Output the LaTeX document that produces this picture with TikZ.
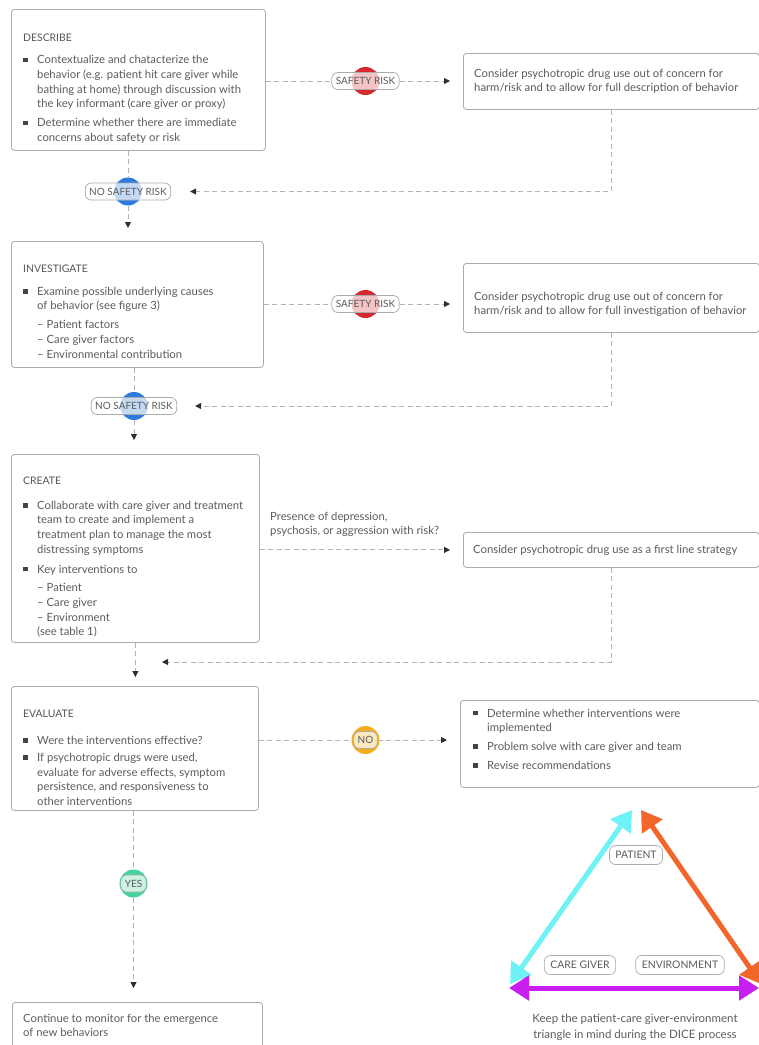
\documentclass[tikz,border=0pt]{standalone}
\usepackage{fontspec}
\setmainfont{Lato}
\usetikzlibrary{arrows.meta}
\definecolor{txt}{HTML}{5C5C5C}
\definecolor{hdc}{HTML}{555555}
\definecolor{boxc}{HTML}{ABABAB}
\definecolor{linec}{HTML}{B3B3B3}
\definecolor{tipc}{HTML}{2E2E2E}
\definecolor{bulc}{HTML}{444444}
\definecolor{riskred}{HTML}{D42A2F}
\definecolor{okblue}{HTML}{2D7BDB}
\definecolor{noyel}{HTML}{F2B01E}
\definecolor{yesgrn}{HTML}{45D39C}
\definecolor{tcyan}{HTML}{6EF2F6}
\definecolor{torange}{HTML}{F2662A}
\definecolor{tmag}{HTML}{C81EF0}
\newcommand{\hd}{\fontsize{10.4}{12}\selectfont\color{hdc}}
\newcommand{\nl}{\hfil\break}
\newcommand{\bul}{\par\noindent\hangindent=14pt\hangafter=1\makebox[14pt][l]{\textcolor{bulc}{\rule[1.6pt]{4.4pt}{4.4pt}}}}
\newcommand{\subi}[1]{\par\noindent\hspace*{14pt}– #1}
\newcommand{\isp}{\par\vspace{4pt}}
\begin{document}
\begin{tikzpicture}[x=1pt,y=-1pt,
  box/.style={draw=boxc, line width=0.8pt, rounded corners=3pt, fill=white, inner sep=0pt, anchor=north west},
  tx/.style={inner sep=0pt, anchor=base west, text=txt, font=\fontsize{11.3}{14.7}\selectfont},
  pill/.style={draw=boxc, line width=0.7pt, rounded corners=6pt, fill=white, fill opacity=0.72, text opacity=1, text=txt, font=\fontsize{10}{11}\selectfont, inner xsep=4pt, inner ysep=0pt, minimum height=17pt},
  tpill/.style={pill, fill opacity=1, font=\fontsize{10.4}{11}\selectfont, inner xsep=6pt, minimum height=19pt},
  dot/.style={circle, inner sep=0pt, minimum size=28pt},
  conn/.style={draw=linec, line width=0.9pt, dash pattern=on 5pt off 3.5pt},
  arr/.style={conn, -{Triangle[length=6pt,width=6pt,color=tipc]}},
  tri/.style={line width=5pt, {Triangle[length=20pt,width=24pt]}-{Triangle[length=20pt,width=24pt]}},
]
\useasboundingbox (0,0) rectangle (759,1045);
\fill[white] (0,0) rectangle (759,1045);

% ---------- DESCRIBE ----------
\node[box, minimum width=254pt, minimum height=141pt] (D) at (11,9) {};
\node[tx] (Dt) at (23,34) {\parbox[t]{240pt}{\raggedright{\hd DESCRIBE}\par\vspace{7.5pt}
\bul Contextualize and chatacterize the\nl behavior (e.g. patient hit care giver while\nl bathing at home) through discussion with\nl the key informant (care giver or proxy)\isp
\bul Determine whether there are immediate\nl concerns about safety or risk}};

\node[box, minimum width=296pt, minimum height=56pt] (R1) at (463,53) {};
\node[tx] (R1t) at (474,77) {\parbox[t]{282pt}{\raggedright Consider psychotropic drug use out of concern for\nl harm/risk and to allow for full description of behavior}};

\node[dot, fill=riskred] (SR1c) at (365.5,81) {};
\node[pill] (SR1) at (365.5,81) {SAFETY RISK};
\node[dot, fill=okblue] (NSR1c) at (128,191.5) {};
\node[pill] (NSR1) at (128,191.5) {NO SAFETY RISK};

% ---------- INVESTIGATE ----------
\node[box, minimum width=252pt, minimum height=126pt] (I) at (11,241) {};
\node[tx] (It) at (23,265) {\parbox[t]{238pt}{\raggedright{\hd INVESTIGATE}\par\vspace{8pt}
\bul Examine possible underlying causes\nl of behavior (see figure 3)\isp
\subi{Patient factors}
\subi{Care giver factors}
\subi{Environmental contribution}}};

\node[box, minimum width=296pt, minimum height=69pt] (R2) at (463,263) {};
\node[tx] (R2t) at (474,300) {\parbox[t]{282pt}{\raggedright Consider psychotropic drug use out of concern for\nl harm/risk and to allow for full investigation of behavior}};

\node[dot, fill=riskred] (SR2c) at (365.5,304) {};
\node[pill] (SR2) at (365.5,304) {SAFETY RISK};
\node[dot, fill=okblue] (NSR2c) at (134,406) {};
\node[pill] (NSR2) at (134,406) {NO SAFETY RISK};

% ---------- CREATE ----------
\node[box, minimum width=248pt, minimum height=188pt] (C) at (11,454) {};
\node[tx] (Ct) at (23,477) {\parbox[t]{236pt}{\raggedright{\hd CREATE}\par\vspace{10pt}
\bul Collaborate with care giver and treatment\nl team to create and implement a\nl treatment plan to manage the most\nl distressing symptoms\par\vspace{5pt}
\bul Key interventions to\par\vspace{4pt}
\subi{Patient}
\subi{Care giver}
\subi{Environment}
\par\noindent\hspace*{14pt}(see table 1)}};

\node[tx] (Q) at (270,520) {\parbox[t]{220pt}{\raggedright Presence of depression,\nl psychosis, or aggression with risk?}};

\node[box, minimum width=296pt, minimum height=35pt] (R3) at (463,532) {};
\node[tx] (R3t) at (473,553) {Consider psychotropic drug use as a first line strategy};
\coordinate (j3) at (162,662);

% ---------- EVALUATE ----------
\node[box, minimum width=247pt, minimum height=124pt] (E) at (11,686) {};
\node[tx] (Et) at (23,710) {\parbox[t]{236pt}{\raggedright{\hd EVALUATE}\par\vspace{12pt}
\bul Were the interventions effective?\par\vspace{2.5pt}
\bul If psychotropic drugs were used,\nl evaluate for adverse effects, symptom\nl persistence, and responsiveness to\nl other interventions}};

\node[dot, fill=noyel] (NOc) at (365.5,740) {};
\node[pill] (NO) at (365.5,740) {NO};

\node[box, minimum width=299pt, minimum height=87pt] (R4) at (460,700) {};
\node[tx] (R4t) at (473,717) {\parbox[t]{280pt}{\raggedright
\bul Determine whether interventions were\nl implemented\par\vspace{4pt}
\bul Problem solve with care giver and team\par\vspace{4pt}
\bul Revise recommendations}};

\node[dot, fill=yesgrn] (YESc) at (133.5,883.5) {};
\node[pill] (YES) at (133.5,883.5) {YES};

\node[box, minimum width=250pt, minimum height=70pt] (M) at (12,1002) {};
\node[tx] (Mt) at (23,1022) {\parbox[t]{238pt}{\raggedright Continue to monitor for the emergence\nl of new behaviors}};

% ---------- connectors ----------
\draw[conn] (SR1.west -| D.east) -- (SR1.west);
\draw[arr, shorten >=13pt] (SR1.east) -- (SR1.east -| R1.west);
\draw[arr, shorten >=19pt] (R1.south) |- (NSR1.east);
\draw[conn] (NSR1c.north |- D.south) -- (NSR1c.north);
\draw[arr, shorten >=13pt] (NSR1c.south) -- (NSR1c.south |- I.north);

\draw[conn] (SR2.west -| I.east) -- (SR2.west);
\draw[arr, shorten >=13pt] (SR2.east) -- (SR2.east -| R2.west);
\draw[arr, shorten >=18pt] (R2.south) |- (NSR2.east);
\draw[conn] (NSR2c.north |- I.south) -- (NSR2c.north);
\draw[arr, shorten >=14pt] (NSR2c.south) -- (NSR2c.south |- C.north);

\draw[arr, shorten >=13pt] (R3.west -| C.east) -- (R3.west);
\draw[arr] (R3.south) |- (j3);
\draw[arr, shorten >=9pt] (C.south) -- (C.south |- E.north);

\draw[conn] (NO.west -| E.east) -- (NO.west);
\draw[arr, shorten >=13pt] (NO.east) -- (NO.east -| R4.west);
\draw[conn] (YESc.north |- E.south) -- (YESc.north);
\draw[arr, shorten >=14pt] (YESc.south) -- (YESc.south |- M.north);

% ---------- triangle ----------
\coordinate (tp1) at (632,810);
\coordinate (tl1) at (510,984);
\coordinate (tp2) at (641,810);
\coordinate (tr2) at (761,984);
\coordinate (tl3) at (509,988);
\coordinate (tr3) at (759,988);
\draw[tri, tcyan] (tl1) -- (tp1);
\draw[tri, tmag] (tl3) -- (tr3);
\draw[tri, torange] (tp2) -- (tr2);
\node[tpill] (PAT) at (636,855) {PATIENT};
\node[tpill] (CG) at (580,965) {CARE GIVER};
\node[tpill] (ENV) at (680,965) {ENVIRONMENT};
\node[inner sep=0pt, anchor=north, align=center, text=txt, font=\fontsize{11.5}{16}\selectfont] (cap) at (635,1014) {Keep the patient-care giver-environment\\triangle in mind during the DICE process};
\end{tikzpicture}
\end{document}
